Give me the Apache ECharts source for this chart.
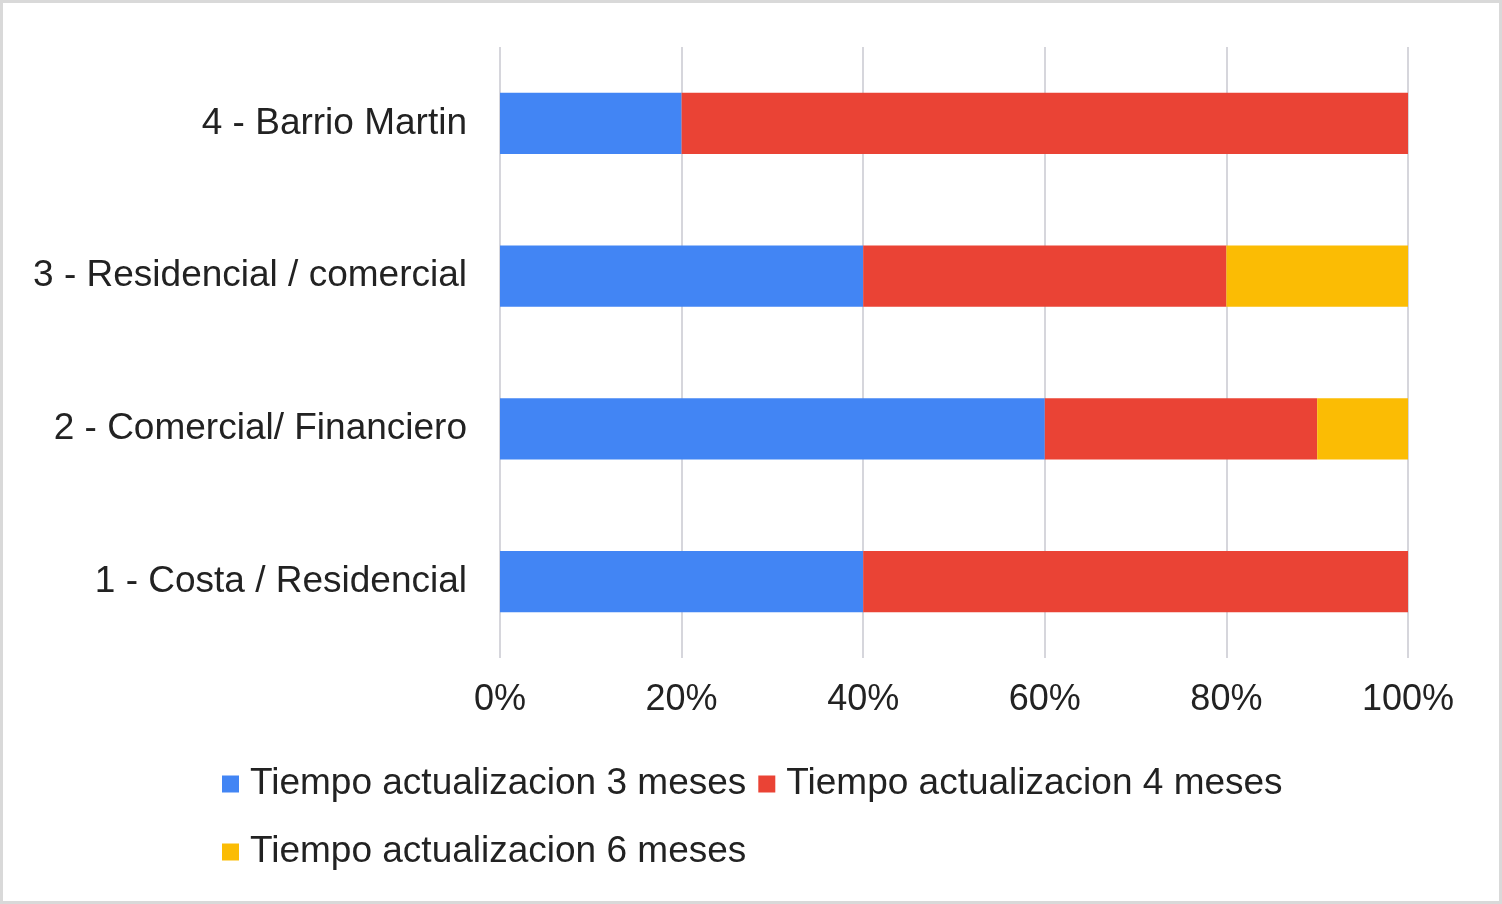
<!DOCTYPE html>
<html>
<head>
<meta charset="utf-8">
<script src="https://cdn.jsdelivr.net/npm/echarts@6/dist/echarts.min.js"></script>
<style>
  html, body { margin: 0; padding: 0; background: #fff; }
  #chart { position: absolute; left: 0; top: 0; width: 1502px; height: 904px; }
  #frame { position: absolute; left: 0; top: 0; width: 1502px; height: 904px; box-sizing: border-box;
           border: 3px solid #d9d9d9; pointer-events: none; }
</style>
</head>
<body>
<div id="chart"></div>
<div id="frame"></div>
<script>
// categories, bottom to top
var zonas = ['1 - Costa / Residencial', '2 - Comercial/ Financiero', '3 - Residencial / comercial', '4 - Barrio Martin'];
var meses3 = [40, 60, 40, 20];
var meses4 = [60, 30, 40, 80];
var meses6 = [0, 10, 20, 0];
var ticks = [0, 20, 40, 60, 80, 100];

var textCol = '#222222';
var fnt = 'Liberation Sans, Arial, sans-serif';

var myChart = echarts.init(document.getElementById('chart'));
var option = {
    color: ['#4285F4', '#EA4335', '#FBBC04'],
    animation: false,
    legend: {
        left: 217,
        top: 751,
        width: 1150,
        itemWidth: 17,
        itemHeight: 17,
        itemGap: 12,
        icon: 'rect',
        textStyle: { fontFamily: fnt, fontSize: 37, color: textCol, lineHeight: 56, padding: [0, 0, 0, 6] }
    },
    grid: { left: 500, right: 94, top: 47, bottom: 246 },
    xAxis: {
        type: 'value',
        min: ticks[0],
        max: ticks[ticks.length - 1],
        interval: 20,
        axisLine: { show: false },
        axisTick: { show: false },
        splitLine: { lineStyle: { color: '#c8c8d0', width: 1.5 } },
        axisLabel: { formatter: '{value}%', margin: 24, fontFamily: fnt, fontSize: 36, color: textCol }
    },
    yAxis: {
        type: 'category',
        data: zonas,
        axisLine: { show: false },
        axisTick: { show: false },
        axisLabel: { margin: 33, fontFamily: fnt, fontSize: 37, color: textCol }
    },
    series: [
        { name: 'Tiempo actualizacion 3 meses', type: 'bar', stack: 'total', barWidth: '40%', data: meses3 },
        { name: 'Tiempo actualizacion 4 meses', type: 'bar', stack: 'total', barWidth: '40%', data: meses4 },
        { name: 'Tiempo actualizacion 6 meses', type: 'bar', stack: 'total', barWidth: '40%', data: meses6 }
    ]
};
myChart.setOption(option);
</script>
</body>
</html>
